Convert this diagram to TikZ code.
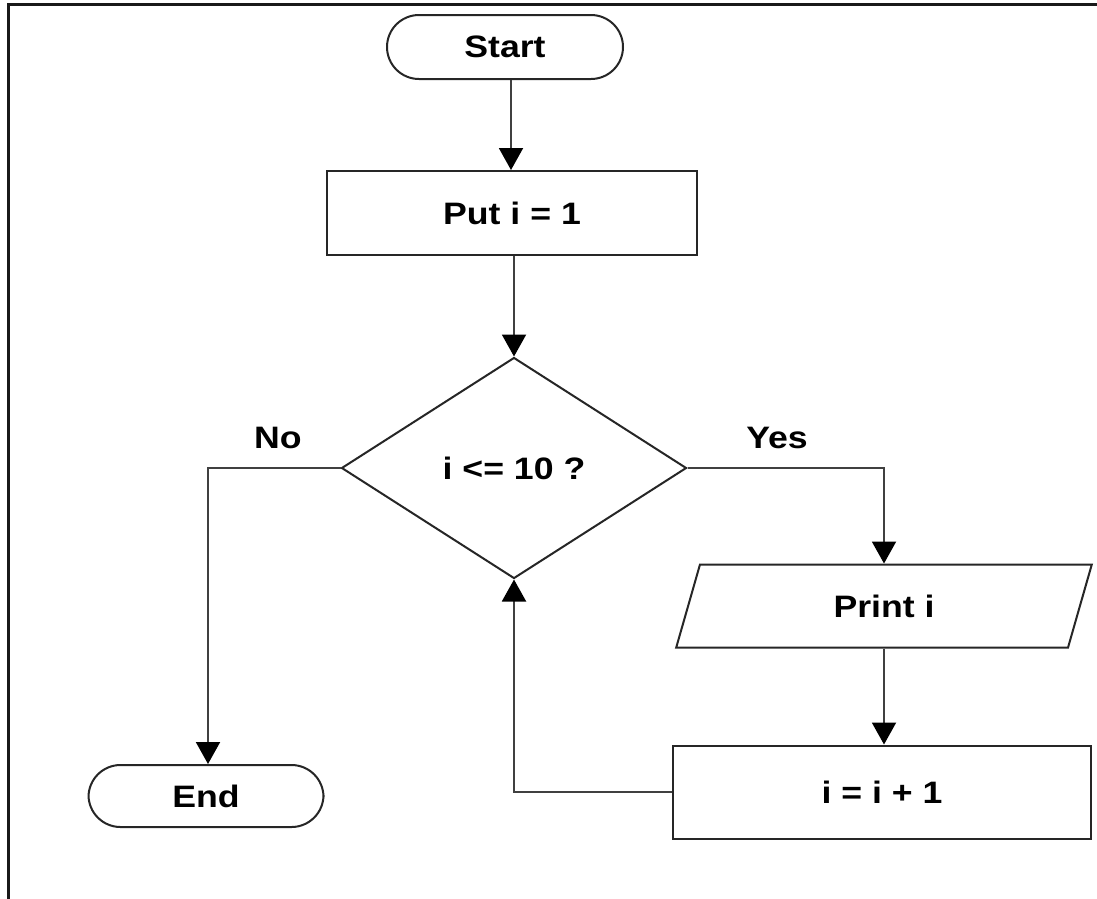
\documentclass[tikz,border=0pt]{standalone}
\usepackage{fontspec}
\setmainfont{Liberation Sans}[FakeStretch=1.15]
\usetikzlibrary{shapes.geometric,arrows.meta}
\begin{document}
\begin{tikzpicture}[x=1pt,y=1pt,
  font=\fontsize{31}{37}\selectfont\bfseries,
  box/.style={draw=black!85, line width=2pt, inner sep=0pt, fill=white},
  term/.style={box, rectangle, rounded corners=32pt},
  proc/.style={box, rectangle},
  decide/.style={box, diamond},
  io/.style={box, trapezium, trapezium left angle=74, trapezium right angle=106,
             trapezium stretches=true},
  flow/.style={draw=black!75, line width=2pt,
               -{Triangle[width=24pt,length=22pt,black]}},
  lbl/.style={inner sep=0pt}
]
\useasboundingbox (0,0) rectangle (1097,-898);
\clip (0,0) rectangle (1097,-898);
% outer frame (running past the page on the right and bottom)
\draw[line width=3pt, black!90] (8,-920) -- (8,-4) -- (1120,-4);

% nodes
\node[term, minimum width=236pt, minimum height=64pt] (start) at (505,-47) {Start};
\node[proc, minimum width=370pt, minimum height=84pt] (put) at (512,-213) {Put i = 1};
\node[decide, minimum width=345pt, minimum height=221pt] (cond) at (514,-468) {i <= 10 ?};
\node[io, minimum width=416pt, minimum height=83pt] (print) at (884,-606) {Print i};
\node[proc, minimum width=418pt, minimum height=93pt] (inc) at (882,-792) {i = i + 1};
\node[term, minimum width=235pt, minimum height=62pt] (end) at (206,-796) {End};

\node[lbl] (no) at (278,-438) {No};
\node[lbl] (yes) at (777,-438) {Yes};

\coordinate (nocorner) at (208,-468);
\coordinate (yescorner) at (884,-468);
\coordinate (loopcorner) at (514,-792);

% connectors
\draw[flow] (start.south -| 511,0) -- (put.north -| 511,0);
\draw[flow] (put.south -| cond.north) -- (cond.north);
\draw[flow] (cond.east) -- (yescorner) -- (print.north -| yescorner);
\draw[flow] (cond.west) -- (nocorner) -- (end.north -| nocorner);
\draw[flow] (print.south -| 884,0) -- (inc.north -| 884,0);
\draw[flow] (inc.west) -- (loopcorner) -- (cond.south);
\end{tikzpicture}
\end{document}
